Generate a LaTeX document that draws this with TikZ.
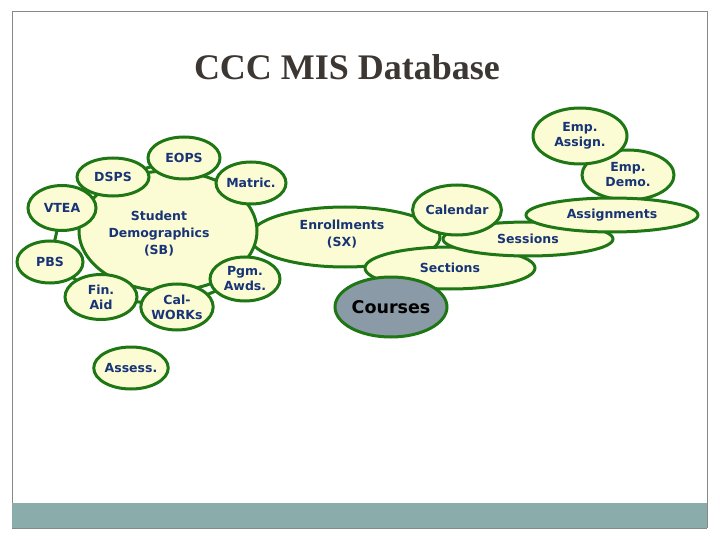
\documentclass[tikz,border=0pt]{standalone}
\usepackage{fontspec}
\setmainfont{Liberation Serif}
\newfontfamily\lblfont{DejaVu Sans}
\usetikzlibrary{shapes.geometric}
\definecolor{bubfill}{RGB}{252,252,212}
\definecolor{bubline}{RGB}{30,118,20}
\definecolor{lbltext}{RGB}{24,52,118}
\definecolor{coursefill}{RGB}{138,154,166}
\definecolor{bandfill}{RGB}{138,172,171}
\definecolor{titlecol}{RGB}{60,55,50}
\definecolor{framecol}{RGB}{130,138,138}
\begin{document}
\begin{tikzpicture}[x=1pt,y=-1pt,
  bub/.style={ellipse,draw=bubline,fill=bubfill,line width=3pt,inner sep=0pt,
    text=lbltext,font=\lblfont\bfseries\fontsize{12.5}{15}\selectfont,align=center},
  neck/.style={draw=bubline,line width=3pt}]
\useasboundingbox (0,0) rectangle (720,540);
% frame and band
\draw[framecol,line width=1pt] (12,528) -- (12,12) -- (707,12) -- (707,528);
\fill[bandfill] (12,503) rectangle (707,528);
\draw[framecol,line width=0.8pt] (12,528) -- (707,528);
% title
\node[font=\bfseries\fontsize{36}{40}\selectfont,text=titlecol] (title) at (347,67) {CCC MIS Database};
% coordinates for centres
\coordinate (cSB) at (168,231);
\coordinate (cDSPS) at (113,177);
\coordinate (cEOPS) at (184,158);
\coordinate (cMatric) at (251,183);
\coordinate (cVTEA) at (62,208);
\coordinate (cPBS) at (50,262);
\coordinate (cFin) at (101,297);
\coordinate (cCal) at (177,307);
\coordinate (cPgm) at (245,279);
% necks
\draw[neck] (cDSPS) -- (cSB);
\draw[neck] (cDSPS) -- (cEOPS);
\draw[neck] (cEOPS) -- (cSB);
\draw[neck] (cMatric) -- (cSB);
\draw[neck] (cVTEA) -- (cSB);
\draw[neck] (cVTEA) -- (cPBS);
\draw[neck] (cPBS) -- (cFin);
\draw[neck] (cFin) -- (cSB);
\draw[neck] (cFin) -- (cCal);
\draw[neck] (cCal) -- (cPgm);
\draw[neck] (cPgm) -- (cSB);
% enrollments and SB blob
\node[bub,minimum width=190pt,minimum height=60pt] (enr) at (345,237) {};
\node[bub,minimum width=178pt,minimum height=120pt] (sb) at (cSB) {};
\node[text=lbltext,font=\lblfont\bfseries\fontsize{12.5}{17}\selectfont,align=center] (sbt) at (159,234) {Student\\Demographics\\(SB)};
\node[text=lbltext,font=\lblfont\bfseries\fontsize{12.5}{17}\selectfont,align=center] (enrt) at (342,234) {Enrollments\\(SX)};
% small bubbles around SB
\node[bub,minimum width=72pt,minimum height=38pt] (dsps) at (cDSPS) {DSPS};
\node[bub,minimum width=72pt,minimum height=42pt] (eops) at (cEOPS) {EOPS};
\node[bub,minimum width=70pt,minimum height=42pt] (matric) at (cMatric) {Matric.};
\node[bub,minimum width=68pt,minimum height=45pt] (vtea) at (cVTEA) {VTEA};
\node[bub,minimum width=66pt,minimum height=42pt] (pbs) at (cPBS) {PBS};
\node[bub,minimum width=72pt,minimum height=45pt] (fin) at (cFin) {Fin.\\Aid};
\node[bub,minimum width=68pt,minimum height=46pt] (calw) at (cCal) {Cal-\\WORKs};
\node[bub,minimum width=70pt,minimum height=44pt] (pgm) at (cPgm) {Pgm.\\Awds.};
\node[bub,minimum width=72pt,minimum height=42pt] (assess) at (131,368) {Assess.};
% right side cluster
\node[bub,minimum width=92pt,minimum height=50pt] (empdemo) at (628,175) {Emp.\\Demo.};
\node[bub,minimum width=94pt,minimum height=56pt] (empassign) at (580,136) {Emp.\\Assign.};
\node[bub,minimum width=170pt,minimum height=42pt] (sections) at (450,268) {Sections};
\node[bub,minimum width=170pt,minimum height=34pt] (sessions) at (528,239) {Sessions};
\node[bub,minimum width=172pt,minimum height=34pt] (assign) at (612,215) {Assignments};
\node[bub,minimum width=88pt,minimum height=50pt] (calendar) at (457,210) {Calendar};
\node[bub,fill=coursefill,text=black,font=\lblfont\bfseries\fontsize{17.5}{20}\selectfont,
  minimum width=112pt,minimum height=60pt] (courses) at (391,307) {Courses};
\end{tikzpicture}
\end{document}
